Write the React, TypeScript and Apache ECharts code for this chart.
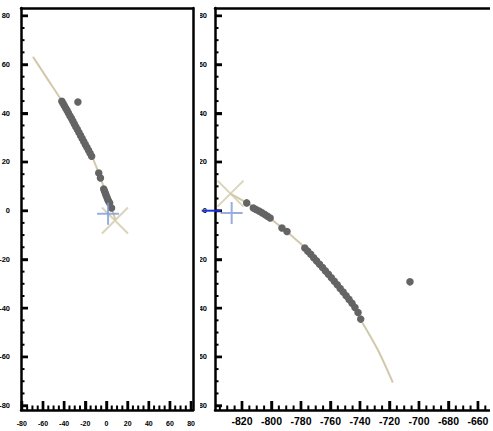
import React, { useEffect, useRef } from "react";
import * as echarts from "echarts";

// ---------- Left panel data ----------
const leftCurveX = [-69.5, -56, -42.5, -28.5, -14, -6.5, 0, 4.8, 8.6];
const leftCurveY = [63.2, 54.2, 45.2, 34, 22.5, 14.5, 6.5, 1, -3.9];

const leftPtsX = [
  -42.2, -41, -39.8, -38.5, -37.2, -36, -34.6, -33.2, -31.8, -30.4, -29, -27.5, -26, -24.5, -23, -21.5, -20,
  -18.5, -17, -15.5, -14, -7.3, -5.7, -2.6, -1.8, -1, -0.3, 0.5, 1.2, 2, 3, 4.8, -27,
];
const leftPtsY = [
  44.9, 44, 43.1, 42.1, 41.1, 40.1, 39, 37.9, 36.8, 35.6, 34.5, 33.3, 32.1, 30.9, 29.6, 28.4, 27.2, 26, 24.8,
  23.6, 22.4, 15.5, 13.4, 8.9, 8, 7.1, 6.2, 5.4, 4.6, 3.9, 3.2, 1.1, 44.6,
];
const leftCross = [8, -4];
const leftPlus = [1.5, -1.2];

// ---------- Right panel data ----------
const rightCurveX = [-828, -817, -806, -795, -785, -777, -765, -752, -739.5, -728, -717.7];
const rightCurveY = [7, 3.3, -0.7, -6, -11, -15.3, -23, -32.5, -44.8, -57, -70.6];

const rightPtsX = [
  -816.8, -812.3, -810.5, -808.5, -806.5, -804.5, -802.7, -800.9, -792.9, -789.5, -777.4, -775.4, -773.4,
  -771.4, -769.4, -767.4, -765.4, -763.4, -761.4, -759.4, -757.4, -755.4, -753.4, -751.4, -749.4, -747.4,
  -745.4, -743.4, -741.3, -739.5, -706.1,
];
const rightPtsY = [
  3.2, 1.1, 0.5, -0.1, -0.8, -1.6, -2.3, -3.0, -7.1, -8.5, -15.3, -16.6, -17.9, -19.3, -20.6, -22, -23.3,
  -24.7, -26.1, -27.5, -29, -30.4, -31.9, -33.4, -34.9, -36.4, -38, -39.7, -41.8, -44.5, -29.2,
];
const rightCross = [-827.8, 7];
const rightPlus = [-827, -0.9];
const rightRefLine = [-847.3, 0, -834.3, 0];

// ---------- Axis ranges and ticks ----------
const yMin = -81.8;
const yMax = 83.2;
const leftXMin = -80.8;
const leftXMax = 81.8;
const rightXMin = -838.3;
const rightXMax = -640.3;

const yMajorTicks = [-80, -60, -40, -20, 0, 20, 40, 60, 80];
const leftXMajorTicks = [-80, -60, -40, -20, 0, 20, 40, 60, 80];
const rightXMajorTicks = [-820, -800, -780, -760, -740, -720, -700, -680, -660];
const minorStep = 5;

const zip = (xs: number[], ys: number[]) => xs.map((x, i) => [x, ys[i]]);

const FONT = "'Liberation Sans', Arial, sans-serif";
const TAN = "#d2c9ab";
const PT = "#646464";
const BLUE = "#7e9ad8";

const crossPath = "path://M0,0L10,10M10,0L0,10";
const plusPath = "path://M5,0L5,10M0,5L10,5";

function minorsBetween(lo: number, hi: number, majors: number[]) {
  const out: number[] = [];
  const start = Math.ceil(lo / minorStep) * minorStep;
  for (let v = start; v < hi; v += minorStep) {
    if (v <= lo + 0.3 || v >= hi - 0.3) continue;
    if (majors.indexOf(v) >= 0) continue;
    out.push(v);
  }
  return out;
}

// tick marks drawn as small filled rectangles anchored on the axes
function tickSeries(data: number[][], vertical: boolean, len: number, width: number) {
  return {
    type: "scatter",
    silent: true,
    clip: false,
    z: 15,
    data,
    symbol: "rect",
    symbolSize: vertical ? [width, len] : [len, width],
    symbolOffset: vertical ? [0, -len / 2] : [len / 2, 0],
    itemStyle: { color: "#000", opacity: 1 },
    emphasis: { disabled: true },
  };
}

function makeOption(opts: {
  gridLeft: number;
  xMin: number;
  xMax: number;
  xSplit: number;
  xMajor: number[];
  xFont: number;
  xMargin: number;
  yMargin: number;
  curve: number[][];
  pts: number[][];
  cross: number[];
  plus: number[];
  ref?: number[];
}) {
  const eps = 0.001;
  const xMajorData = opts.xMajor.map((v) => [v, yMin + eps]);
  const xMinorData = minorsBetween(opts.xMin, opts.xMax, opts.xMajor).map((v) => [v, yMin + eps]);
  const yMajorData = yMajorTicks.map((v) => [opts.xMin + eps, v]);
  const yMinorData = minorsBetween(yMin, yMax, yMajorTicks).map((v) => [opts.xMin + eps, v]);

  const series: any[] = [
    {
      type: "line",
      data: opts.curve,
      smooth: 0.3,
      showSymbol: false,
      lineStyle: { color: TAN, width: 2 },
      z: 1,
    },
    {
      type: "scatter",
      data: opts.pts,
      symbolSize: 7.5,
      itemStyle: { color: PT, opacity: 1 },
      z: 2,
    },
    {
      type: "scatter",
      data: [opts.cross],
      symbol: crossPath,
      symbolSize: 26,
      itemStyle: { color: "rgba(0,0,0,0)", borderColor: TAN, borderWidth: 2 },
      z: 3,
    },
    {
      type: "scatter",
      data: [opts.plus],
      symbol: plusPath,
      symbolSize: 22,
      itemStyle: { color: "rgba(0,0,0,0)", borderColor: BLUE, borderWidth: 2 },
      z: 4,
    },
    tickSeries(xMajorData, true, 9, 2.4),
    tickSeries(xMinorData, true, 4.5, 2),
    tickSeries(yMajorData, false, 7, 2.4),
    tickSeries(yMinorData, false, 3.5, 2),
  ];
  if (opts.ref) {
    series.push({
      type: "custom",
      coordinateSystem: "cartesian2d",
      silent: true,
      clip: false,
      z: 20,
      encode: { x: [0, 2], y: [1, 3] },
      data: [opts.ref],
      renderItem: (_params: any, api: any) => {
        const a = api.coord([api.value(0), api.value(1)]);
        const b = api.coord([api.value(2), api.value(3)]);
        return {
          type: "line",
          shape: { x1: a[0], y1: a[1], x2: b[0], y2: b[1] },
          style: { stroke: "#1a2fe0", lineWidth: 2 },
        };
      },
    });
  }
  const frameLine = { show: true, onZero: false, lineStyle: { color: "#000", width: 2.5 } };
  const label = (size: number, margin: number) => ({
    show: true,
    color: "#000",
    fontFamily: FONT,
    fontWeight: "bold",
    fontSize: size,
    margin,
    showMinLabel: false,
    showMaxLabel: false,
    hideOverlap: false,
  });
  const frameAxis = (position: string, min: number, max: number) => ({
    type: "value",
    position,
    min,
    max,
    axisLine: frameLine,
    axisTick: { show: false },
    minorTick: { show: false },
    splitLine: { show: false },
    axisLabel: { show: false },
    z: 10,
  });
  return {
    animation: false,
    backgroundColor: "#fff",
    grid: {
      left: opts.gridLeft,
      right: 3,
      top: 8,
      bottom: 21,
      show: false,
      containLabel: false,
      outerBoundsMode: "none",
    },
    xAxis: [
      {
        type: "value",
        position: "bottom",
        min: opts.xMin,
        max: opts.xMax,
        splitNumber: opts.xSplit,
        axisLine: frameLine,
        axisTick: { show: true, inside: true, length: 9, lineStyle: { color: "#000", width: 2.4 } },
        minorTick: { show: false },
        splitLine: { show: false },
        minorSplitLine: { show: false },
        axisLabel: label(opts.xFont, opts.xMargin),
        z: 10,
      },
      frameAxis("top", opts.xMin, opts.xMax),
    ],
    yAxis: [
      {
        type: "value",
        position: "left",
        min: yMin,
        max: yMax,
        splitNumber: 8,
        axisLine: frameLine,
        axisTick: { show: true, inside: true, length: 7, lineStyle: { color: "#000", width: 2.4 } },
        minorTick: { show: false },
        splitLine: { show: false },
        minorSplitLine: { show: false },
        axisLabel: label(7.5, opts.yMargin),
        z: 10,
      },
      frameAxis("right", yMin, yMax),
    ],
    series,
  };
}

function Chart({ option, width, height }: { option: any; width: number; height: number }) {
  const ref = useRef<HTMLDivElement>(null);
  useEffect(() => {
    if (!ref.current) return;
    const chart = echarts.init(ref.current, undefined, { renderer: "svg" });
    chart.setOption(option);
    return () => chart.dispose();
  }, [option]);
  return <div ref={ref} style={{ width, height }} />;
}

const leftOption = makeOption({
  gridLeft: 21,
  xMin: leftXMin,
  xMax: leftXMax,
  xSplit: 8,
  xMajor: leftXMajorTicks,
  xFont: 7,
  xMargin: 10,
  yMargin: 11,
  curve: zip(leftCurveX, leftCurveY),
  pts: zip(leftPtsX, leftPtsY),
  cross: leftCross,
  plus: leftPlus,
});

const rightOption = makeOption({
  gridLeft: 15,
  xMin: rightXMin,
  xMax: rightXMax,
  xSplit: 10,
  xMajor: rightXMajorTicks,
  xFont: 10.5,
  xMargin: 5,
  yMargin: 8,
  curve: zip(rightCurveX, rightCurveY),
  pts: zip(rightPtsX, rightPtsY),
  cross: rightCross,
  plus: rightPlus,
  ref: rightRefLine,
});

export default function App() {
  return (
    <div
      style={{
        position: "fixed",
        left: 0,
        top: 0,
        width: 493,
        height: 431,
        background: "#fff",
        overflow: "hidden",
      }}
    >
      <div style={{ position: "absolute", left: 0, top: 0, width: 196, height: 431, overflow: "hidden" }}>
        <Chart option={leftOption} width={196} height={431} />
      </div>
      <div style={{ position: "absolute", left: 200, top: 0, width: 290, height: 431, overflow: "hidden" }}>
        <Chart option={rightOption} width={310} height={431} />
      </div>
    </div>
  );
}
